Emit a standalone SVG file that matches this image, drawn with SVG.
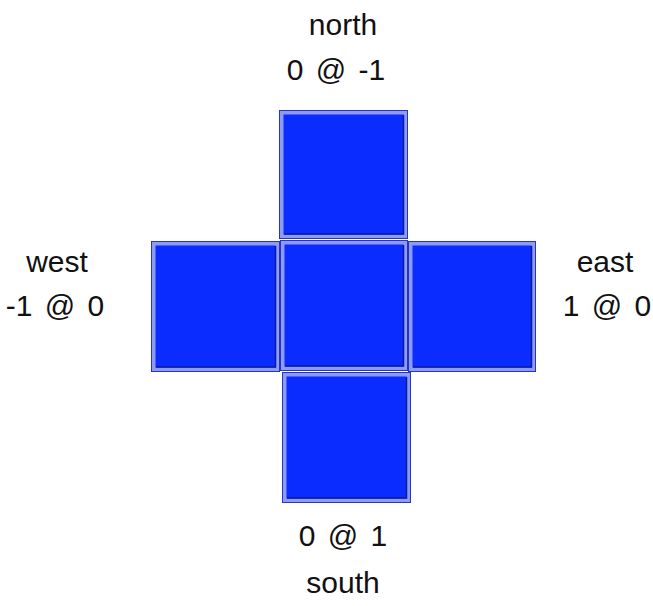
<svg xmlns="http://www.w3.org/2000/svg" width="653" height="606" viewBox="0 0 653 606">
<defs>
<style>
.lbl{font-family:"Liberation Sans",Arial,Helvetica,sans-serif;font-size:30px;fill:#111;text-anchor:middle;word-spacing:4px}
.outer{fill:#0a2cff;stroke:#8f9af2;stroke-width:4}
.edge{fill:none;stroke:#2435c0;stroke-width:1}
.dk{fill:none;stroke:#0a1a9c;stroke-width:1.5}
</style>
</defs>
<rect width="653" height="606" fill="#ffffff"/>
<g id="north">
<rect class="outer" x="281.5" y="112.5" width="124" height="124"/>
<rect class="edge" x="279.5" y="110.5" width="128" height="128"/>
<polyline class="dk" points="284,234 403.5,234 403.5,115"/>
</g>
<g id="west">
<rect class="outer" x="153.5" y="243.5" width="124" height="126"/>
<rect class="edge" x="151.5" y="241.5" width="128" height="130"/>
<polyline class="dk" points="156,367 275.5,367 275.5,246"/>
</g>
<g id="center">
<rect class="outer" x="282.5" y="242.5" width="123" height="126"/>
<rect class="edge" x="280.5" y="240.5" width="127" height="130"/>
<polyline class="dk" points="285,366 403.5,366 403.5,245"/>
</g>
<g id="east">
<rect class="outer" x="410.5" y="243.5" width="123" height="126"/>
<rect class="edge" x="408.5" y="241.5" width="127" height="130"/>
<polyline class="dk" points="413,367 531.5,367 531.5,246"/>
</g>
<g id="south">
<rect class="outer" x="284.5" y="374.5" width="124" height="126"/>
<rect class="edge" x="282.5" y="372.5" width="128" height="130"/>
<polyline class="dk" points="287,498 406.5,498 406.5,377"/>
</g>
<g id="labels">
<text class="lbl" x="343" y="35">north</text>
<text class="lbl" x="336" y="80">0 @ -1</text>
<text class="lbl" x="57" y="272">west</text>
<text class="lbl" x="55" y="316">-1 @ 0</text>
<text class="lbl" x="605" y="272">east</text>
<text class="lbl" x="607" y="316">1 @ 0</text>
<text class="lbl" x="343" y="546">0 @ 1</text>
<text class="lbl" x="343" y="593">south</text>
</g>
<g id="connectors"></g>
</svg>
